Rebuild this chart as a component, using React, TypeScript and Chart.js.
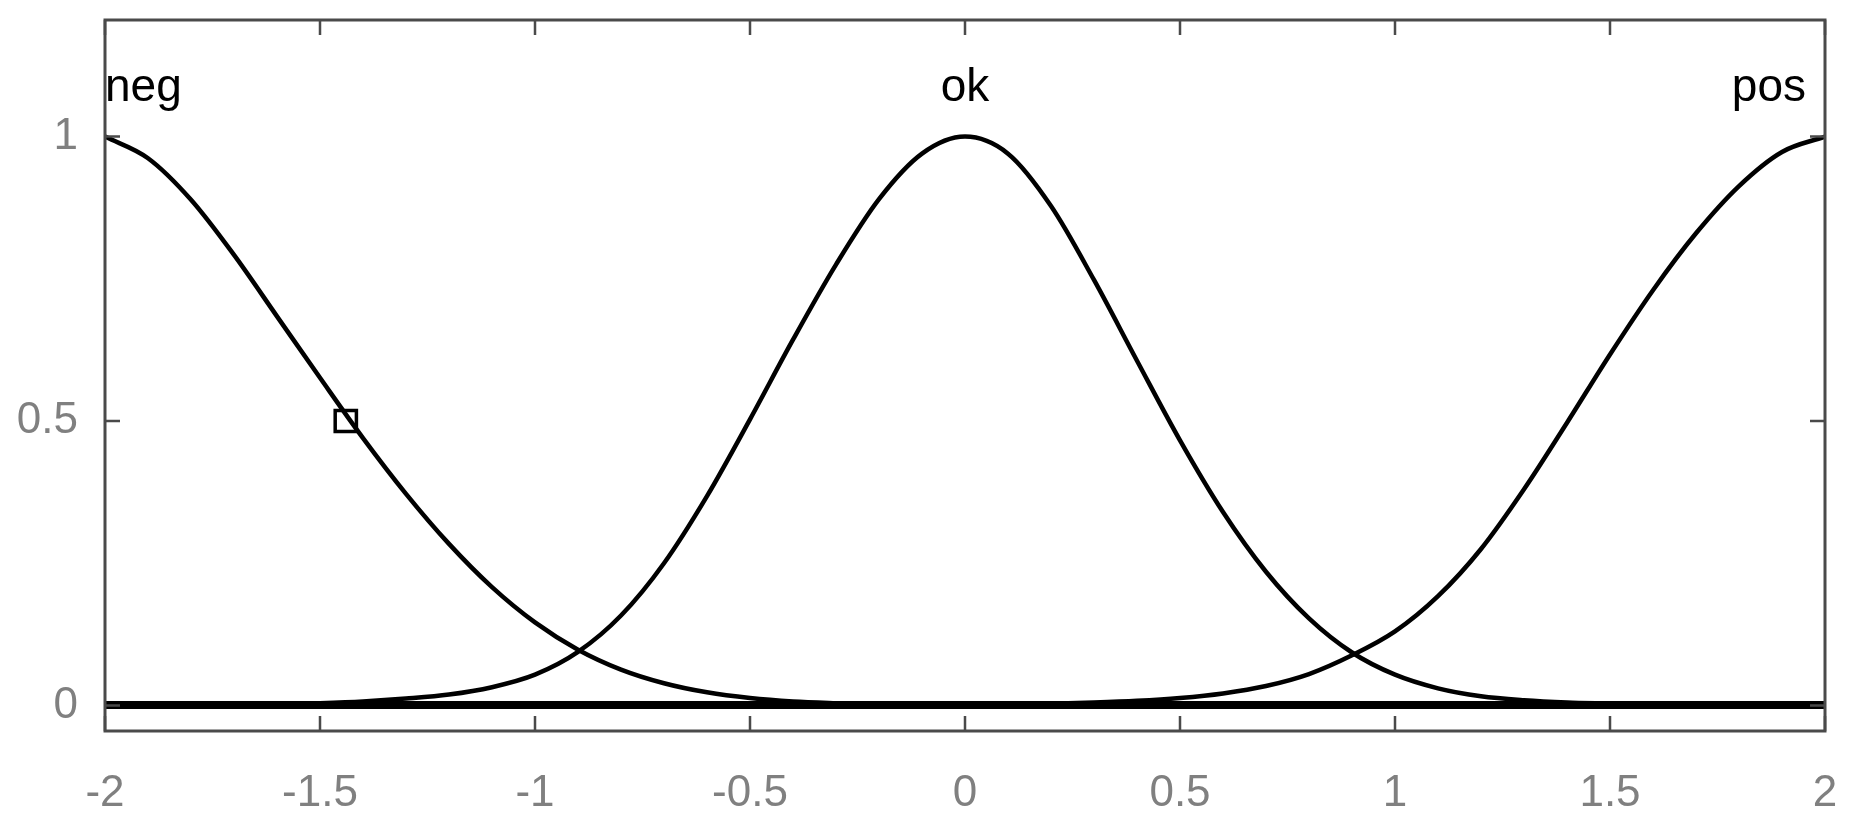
import React, { useEffect, useRef } from "react";
import { Chart, registerables } from "chart.js";

Chart.register(...registerables);

// x grid of the membership functions
const xs = [
  -2, -1.9, -1.8, -1.7, -1.6, -1.5, -1.4, -1.3, -1.2, -1.1, -1, -0.9, -0.8, -0.7, -0.6, -0.5, -0.4, -0.3, -0.2, -0.1, 0,
  0.1, 0.2, 0.3, 0.4, 0.5, 0.6, 0.7, 0.8, 0.9, 1, 1.1, 1.2, 1.3, 1.4, 1.5, 1.6, 1.7, 1.8, 1.9, 2,
];

const negValues = [
  1.0, 0.962, 0.889, 0.792, 0.684, 0.576, 0.47, 0.372, 0.284, 0.208, 0.146, 0.098, 0.063, 0.039, 0.023, 0.013, 0.007, 0.004, 0.002, 0.001, 0,
  0, 0, 0, 0, 0, 0, 0, 0, 0, 0, 0, 0, 0, 0, 0, 0, 0, 0, 0, 0,
];

const okValues = [
  0, 0, 0, 0.001, 0.002, 0.004, 0.007, 0.012, 0.019, 0.032, 0.054, 0.094, 0.158, 0.25, 0.368, 0.503, 0.643, 0.775, 0.89, 0.97, 1.0,
  0.97, 0.878, 0.748, 0.606, 0.466, 0.34, 0.235, 0.153, 0.093, 0.054, 0.03, 0.016, 0.009, 0.005, 0.003, 0.001, 0, 0, 0, 0,
];

const posValues = [
  0, 0, 0, 0, 0, 0, 0, 0, 0, 0, 0, 0, 0, 0, 0, 0, 0, 0, 0, 0, 0.001,
  0.002, 0.003, 0.005, 0.008, 0.013, 0.021, 0.034, 0.055, 0.088, 0.13, 0.192, 0.275, 0.38, 0.497, 0.617, 0.73, 0.83, 0.913, 0.973, 1.0,
];

// current-input marker
const markerX = [-1.44];
const markerY = [0.5];

// membership function labels
const mfNames = ["neg", "ok", "pos"];
const mfLabelX = [-2, 0, 2];
const mfLabelY = 1.063;

// ticks
const xTicks = [-2, -1.5, -1, -0.5, 0, 0.5, 1, 1.5, 2];
const yTicks = [0, 0.5, 1];

const FONT = '"Liberation Sans", Arial, Helvetica, sans-serif';

const boxPlugin = {
  id: "boxPlugin",
  afterDatasetsDraw(chart: any) {
    const { ctx, chartArea } = chart;
    const { left, right, top, bottom } = chartArea;
    const xs = chart.scales.x;
    const ys = chart.scales.y;
    ctx.save();
    ctx.strokeStyle = "#4a4a4a";
    ctx.lineWidth = 3;
    ctx.strokeRect(left, top, right - left, bottom - top);
    const tl = 15;
    ctx.lineWidth = 2.5;
    ctx.beginPath();
    xTicks.forEach((v) => {
      const px = xs.getPixelForValue(v);
      ctx.moveTo(px, bottom);
      ctx.lineTo(px, bottom - tl);
      ctx.moveTo(px, top);
      ctx.lineTo(px, top + tl);
    });
    yTicks.forEach((v) => {
      const py = ys.getPixelForValue(v);
      ctx.moveTo(left, py);
      ctx.lineTo(left + tl, py);
      ctx.moveTo(right, py);
      ctx.lineTo(right - tl, py);
    });
    ctx.stroke();

    // labels
    ctx.fillStyle = "#000";
    ctx.font = `46px ${FONT}`;
    ctx.textBaseline = "alphabetic";
    mfNames.forEach((name, i) => {
      const px = xs.getPixelForValue(mfLabelX[i]);
      const py = ys.getPixelForValue(mfLabelY);
      if (i === 0) {
        ctx.textAlign = "left";
        ctx.fillText(name, px, py);
      } else if (i === mfNames.length - 1) {
        ctx.textAlign = "right";
        ctx.fillText(name, px - 19, py);
      } else {
        ctx.textAlign = "center";
        ctx.fillText(name, px, py);
      }
    });
    ctx.restore();
  },
};

export default function App() {
  const ref = useRef<HTMLCanvasElement | null>(null);

  useEffect(() => {
    if (!ref.current) return;
    const mk = (vals: number[]) => xs.map((x, i) => ({ x, y: vals[i] }));
    const lineStyle = {
      borderColor: "#000",
      borderWidth: 4.5,
      pointRadius: 0,
      fill: false,
      cubicInterpolationMode: "monotone" as const,
    };
    const chart = new Chart(ref.current, {
      type: "line",
      data: {
        datasets: [
          { label: "neg", data: mk(negValues), ...lineStyle },
          { label: "ok", data: mk(okValues), ...lineStyle },
          { label: "pos", data: mk(posValues), ...lineStyle },
          {
            label: "input",
            data: markerX.map((x, i) => ({ x, y: markerY[i] })),
            showLine: false,
            pointStyle: "rect",
            pointRadius: 15,
            pointBorderWidth: 3.5,
            pointBorderColor: "#000",
            pointBackgroundColor: "rgba(0,0,0,0)",
            borderColor: "#000",
          },
        ],
      },
      options: {
        animation: false,
        responsive: false,
        events: [],
        layout: { autoPadding: false, padding: { top: 20, right: 40, left: 0, bottom: 0 } },
        plugins: { legend: { display: false }, tooltip: { enabled: false } },
        scales: {
          x: {
            type: "linear",
            min: -2,
            max: 2,
            afterBuildTicks: (s: any) => {
              s.ticks = xTicks.map((v) => ({ value: v }));
            },
            ticks: {
              color: "#808080",
              font: { family: FONT, size: 44 },
              padding: 36,
              maxRotation: 0,
              autoSkip: false,
              callback: (v: any) => String(v),
            },
            grid: { display: false, drawTicks: false },
            border: { display: false },
            afterFit: (s: any) => {
              s.height = 104;
              s.paddingLeft = 0;
              s.paddingRight = 0;
            },
          },
          y: {
            type: "linear",
            min: -0.045,
            max: 1.205,
            afterBuildTicks: (s: any) => {
              s.ticks = yTicks.map((v) => ({ value: v }));
            },
            ticks: {
              color: "#808080",
              font: { family: FONT, size: 44 },
              padding: 27,
              autoSkip: false,
              callback: (v: any) => String(v),
            },
            grid: {
              drawTicks: false,
              color: (c: any) => (c.tick && c.tick.value === 0 ? "#000" : "rgba(0,0,0,0)"),
              lineWidth: 8,
            },
            border: { display: false },
            afterFit: (s: any) => {
              s.width = 105;
              s.paddingTop = 0;
              s.paddingBottom = 0;
            },
          },
        },
      },
      plugins: [boxPlugin],
    });
    return () => chart.destroy();
  }, []);

  return (
    <div style={{ position: "fixed", left: 0, top: 0, width: 1865, height: 835, background: "#fff" }}>
      <canvas ref={ref} width={1865} height={835} style={{ width: 1865, height: 835, display: "block" }} />
    </div>
  );
}
